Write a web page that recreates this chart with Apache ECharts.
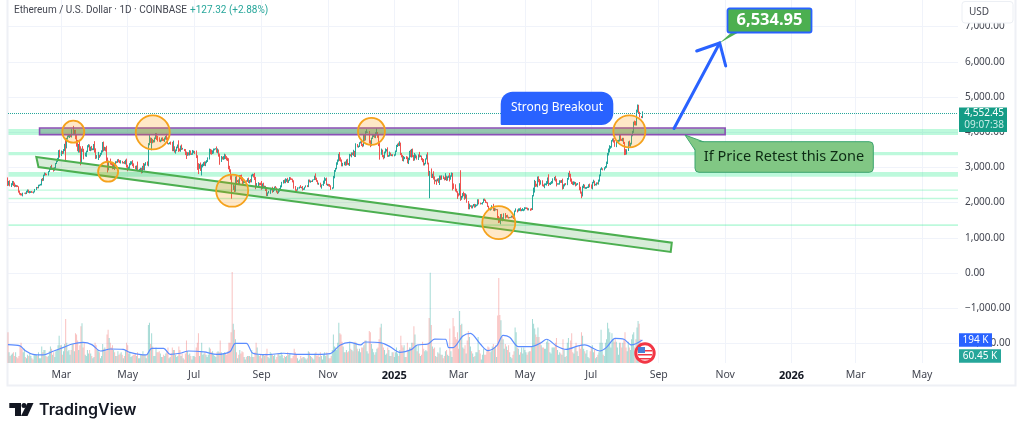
<!DOCTYPE html>
<html><head><meta charset="utf-8">
<script src="https://cdn.jsdelivr.net/npm/echarts@6/dist/echarts.min.js"></script>
<style>html,body{margin:0;padding:0;background:#fff}#c{width:1024px;height:434px}</style></head>
<body><div id="c"></div>
<script>
const tickDates=['2024-03-01','2024-05-01','2024-07-01','2024-09-01','2024-11-01','2025-01-01','2025-03-01','2025-05-01','2025-07-01','2025-09-01','2025-11-01','2026-01-01','2026-03-01','2026-05-01'];
const tickLabels=['Mar','May','Jul','Sep','Nov','{b|2025}','Mar','May','Jul','Sep','Nov','{b|2026}','Mar','May'];
const firstOpen=2620;
const closes=[2522,2576,2472,2512,2587,2530,2468,2490,2470,2453,2313,2242,2234,2217,2267,2268,2258,2317,2344,2283,
2304,2310,2296,2290,2300,2373,2425,2420,2487,2500,2508,2660,2640,2780,2825,2803,2785,2880,2945,3015,2970,2970,2920,2990,3110,3175,3245,3385,3340,
3435,3420,3490,3630,3560,3820,3870,3885,3910,3880,4065,3975,4005,3880,3740,3520,3645,3520,3160,3515,3490,3330,3330,3455,3590,3590,3500,3560,3510,3510,3645,
3500,3280,3310,3330,3320,3390,3455,3695,3505,3545,3505,3240,3005,3160,3100,3085,2985,3065,3055,3155,3150,3200,3175,3140,3155,3130,3130,3105,3210,3015,
2970,2990,3100,3115,3135,3065,3005,2975,3035,2910,2910,2930,2950,2880,3035,2945,3090,3120,3070,3660,3790,3735,3780,3725,3750,3825,3895,3840,3765,3745,3760,
3815,3780,3765,3810,3865,3810,3680,3680,3705,3665,3500,3560,3470,3480,3565,3620,3510,3485,3560,3515,3515,3490,3420,3360,3400,3370,3450,3375,3380,3435,
3440,3420,3295,3060,2980,3070,2930,3020,3065,3100,3095,3130,3175,3245,3485,3445,3390,3425,3505,3520,3535,3440,3480,3335,3175,3275,3245,3270,3320,3280,3230,
3200,2985,2905,2690,2420,2460,2340,2680,2600,2610,2555,2725,2705,2660,2570,2595,2615,2610,2640,2575,2630,2625,2765,2770,2745,2680,2460,2530,2530,2525,2515,
2425,2535,2450,2450,2370,2225,2275,2300,2360,2390,2340,2360,2440,2420,2315,2295,2340,2370,2465,2560,2615,2580,2650,2655,2580,2635,2695,2675,2660,2605,
2445,2365,2350,2415,2415,2445,2425,2440,2370,2385,2440,2475,2460,2625,2605,2610,2605,2645,2650,2750,2670,2620,2525,2535,2445,2505,2505,2565,2640,2660,2515,
2515,2495,2460,2400,2420,2720,2895,2960,3125,3185,3375,3245,3185,3060,3090,3130,3075,3205,3105,3070,3355,3325,3395,3360,3410,3325,3655,3580,3590,3700,
3710,3640,3615,3835,3785,4000,4005,4005,3710,3625,3835,3880,3905,3870,3960,3985,3900,3625,3420,3475,3330,3280,3420,3490,3500,3330,3330,3400,3350,3355,3335,
3355,3450,3610,3655,3635,3685,3380,3325,3220,3265,3280,3265,3135,3225,3450,3310,3475,3310,3215,3290,3330,3240,3340,3315,3315,3235,3180,3075,3110,3245,3300,
3115,2870,2880,2730,2790,2685,2620,2630,2625,2655,2600,2740,2670,2725,2690,2660,2745,2675,2715,2740,2660,2765,2815,2515,2490,2375,2305,2235,
2215,2520,2150,2170,2240,2200,2140,2200,2015,1860,1910,1910,1865,1910,1935,1885,1925,1935,2055,1980,1965,1975,2005,2080,2065,2010,2000,1895,1825,1805,1820,
1905,1795,1815,1805,1805,1580,1550,1470,1665,1520,1565,1645,1595,1625,1590,1575,1580,1585,1610,1590,1575,1760,1795,1770,1785,1820,1795,1795,1795,1795,
1840,1845,1835,1810,1820,1815,1810,2205,2345,2585,2515,2495,2680,2610,2550,2605,2495,2480,2525,2525,2550,2665,2530,2530,2550,2565,2660,2680,2630,2530,2530,
2530,2605,2590,2610,2420,2480,2525,2515,2680,2815,2770,2645,2580,2525,2545,2545,2510,2525,2525,2410,2295,2225,2450,2460,2420,2420,2425,2435,2500,2485,
2405,2570,2590,2510,2515,2545,2540,2615,2770,2950,2955,2945,2975,3010,3135,3370,3475,3550,3590,3755,3760,3745,3625,3715,3745,3755,3875,3795,3790,3810,3695,
3480,3395,3495,3720,3615,3680,3905,4010,4260,4255,4220,4590,4750,4550,4440,4430,4552.45];
const upWicks=[95,40,60,40,30,25,40,20,10,20,10,30,30,25,15,10,20,20,30,25,
25,15,20,15,20,15,20,20,20,15,25,15,40,15,30,20,15,15,25,20,60,20,25,15,15,15,25,105,120,
45,30,30,40,200,20,40,50,20,35,20,115,60,60,50,40,20,120,80,20,90,40,90,20,40,70,60,30,50,30,20,
100,40,40,110,30,20,30,25,40,40,30,110,40,30,90,30,50,30,60,20,20,30,40,30,50,30,20,50,10,40,
60,30,20,60,40,70,50,40,20,130,20,30,40,40,10,90,20,30,50,30,150,60,60,30,30,25,80,80,60,90,30,
30,40,30,40,30,90,40,10,10,30,60,200,40,30,25,30,150,30,60,90,40,10,30,30,30,30,40,30,20,60,
40,30,60,50,60,30,70,60,40,50,70,40,30,40,50,40,60,60,30,15,10,60,60,30,60,50,30,50,70,50,40,
50,60,60,40,100,60,30,60,90,30,50,60,60,90,60,30,10,20,50,70,10,40,30,50,45,100,50,25,50,30,40,
100,10,30,30,25,70,15,30,60,20,60,20,15,30,10,10,20,40,25,30,25,40,40,20,50,15,30,25,15,20,
30,25,10,20,10,10,50,10,30,20,10,15,20,30,30,20,10,10,10,15,80,40,15,30,30,10,10,60,80,30,50,
20,15,30,30,15,40,30,25,20,40,10,60,40,40,40,30,40,20,40,20,30,20,30,30,90,60,30,10,30,15,
30,80,30,90,100,30,80,10,30,60,10,40,20,30,40,123,20,30,80,60,30,20,30,50,20,70,20,50,20,20,20,
20,30,30,20,50,60,20,30,30,60,20,40,40,50,20,50,50,60,40,120,40,10,30,100,30,20,30,60,20,10,70,
130,20,20,90,30,100,60,20,30,30,40,30,30,50,40,30,90,20,30,30,100,10,40,30,30,30,20,20,
30,30,400,20,30,70,70,60,30,30,60,15,15,10,25,30,30,10,40,40,20,10,10,30,35,20,15,10,15,10,20,
20,60,30,20,10,10,40,30,10,15,20,50,60,20,30,10,10,10,20,20,10,15,40,10,50,20,40,20,50,20,
30,20,20,20,20,10,30,10,80,60,30,20,60,70,60,30,30,20,20,20,60,50,140,30,30,50,30,50,80,50,20,
20,30,30,30,70,40,20,30,20,30,90,50,40,20,60,50,40,20,30,60,40,20,30,70,50,20,20,20,20,40,
30,20,60,30,20,30,30,40,30,20,50,20,30,30,30,40,60,80,20,20,60,70,30,50,30,30,60,60,20,30,30,
30,40,20,20,40,20,20,30,40,70,60,50,38,30,30,20,40];
const downWicks=[50,40,10,30,20,60,30,20,30,10,30,15,30,15,40,10,20,15,30,10,
20,30,20,10,30,10,15,15,15,20,15,20,30,20,20,30,10,15,10,20,40,20,40,15,20,15,20,40,60,
15,40,30,30,400,20,30,15,50,20,30,50,30,80,150,60,100,100,100,20,50,100,20,30,20,20,30,40,30,20,20,
80,40,30,100,50,10,30,30,50,30,50,60,150,90,20,20,40,30,130,20,30,20,30,20,30,20,20,10,20,20,
80,20,30,40,30,30,20,30,50,20,20,30,30,50,40,20,30,40,20,40,30,40,250,40,20,40,20,60,30,20,30,
20,30,20,40,20,30,20,30,20,20,40,40,50,80,20,20,70,30,40,20,10,30,70,120,30,30,30,20,20,20,
30,40,30,130,170,20,30,160,20,30,50,60,10,20,20,70,30,10,30,20,10,20,40,30,100,20,20,30,40,40,30,
20,40,40,40,310,60,40,30,50,20,30,30,40,40,70,30,40,20,20,20,30,50,50,20,30,40,80,20,60,40,20,
60,30,20,30,40,40,40,15,50,10,60,40,20,10,30,50,30,30,20,30,20,30,30,60,20,20,15,30,15,30,
50,30,50,10,10,20,10,20,30,10,20,10,20,20,30,40,20,20,10,10,30,30,10,20,10,50,10,30,30,20,20,
40,30,10,40,20,20,30,20,15,50,20,60,20,30,30,30,30,20,30,10,30,10,40,10,30,30,30,10,20,10,
20,30,40,20,40,20,30,20,30,50,20,30,20,30,40,50,60,20,200,60,40,50,20,20,40,30,30,20,20,30,20,
20,20,10,30,30,30,30,40,40,50,30,30,20,40,20,20,30,20,30,20,30,20,30,30,20,30,30,20,20,20,20,
30,110,745,30,30,30,100,20,120,20,40,100,30,20,20,30,20,60,50,10,60,10,30,170,100,60,20,130,
40,10,100,70,30,20,60,30,20,50,50,30,30,30,20,30,20,30,20,30,20,10,30,10,20,20,20,20,20,20,30,
20,30,40,30,20,60,130,40,85,30,50,30,50,20,20,30,20,15,15,20,40,20,20,50,20,20,40,40,30,40,
20,20,20,30,30,50,30,20,30,60,70,40,60,30,70,40,30,30,70,30,40,20,60,20,30,20,20,30,30,70,20,
20,20,30,30,50,30,20,20,20,30,40,50,50,20,30,30,50,30,20,60,40,100,50,40,20,30,30,10,20,50,
10,30,20,40,20,30,20,30,20,20,20,30,30,10,20,40,30,50,20,30,20,40,40,50,20,20,20,40,40,50,30,
130,40,30,30,20,30,30,20,30,60,30,30,30,30,20,30,30];
const volumes=[260,90,60,70,80,90,60,90,50,40,60,140,170,120,90,120,50,40,70,60,
80,60,40,30,70,70,70,60,90,40,40,140,90,110,110,60,50,60,100,140,120,70,90,50,100,110,150,230,150,
150,70,100,160,370,170,100,110,70,110,160,160,100,250,240,190,110,150,310,335,130,170,70,60,110,80,110,80,60,40,50,
170,150,110,100,90,40,60,160,120,130,100,240,280,210,170,130,150,110,90,60,60,100,70,80,90,70,40,60,110,170,
150,80,90,50,60,70,70,80,60,90,40,40,70,70,100,70,70,40,80,320,340,160,250,140,60,60,130,90,90,100,80,
50,50,70,60,80,100,130,40,50,80,130,110,110,70,50,60,140,110,60,80,40,30,80,190,100,70,80,60,30,60,
60,50,130,170,250,60,90,170,70,80,90,70,50,70,130,120,90,100,70,60,50,90,100,90,190,90,70,80,90,80,70,
100,170,170,260,767,330,280,200,90,40,70,110,80,100,90,50,30,50,60,60,60,50,110,50,50,90,170,130,70,60,70,
40,70,70,60,80,120,50,40,90,80,70,60,70,30,50,80,80,60,90,70,40,60,50,60,90,70,80,40,40,60,
120,90,70,40,20,30,60,40,50,50,40,30,40,100,90,60,50,40,30,80,90,60,70,50,90,60,30,70,90,60,90,
70,40,40,60,110,240,140,130,110,170,340,250,240,180,140,90,90,110,90,100,180,120,110,100,170,180,170,120,100,120,
90,130,130,150,190,190,100,80,270,260,160,120,90,70,90,120,130,200,300,330,160,130,110,70,80,130,110,60,60,90,90,
50,90,130,80,60,110,230,150,130,150,50,50,170,110,130,130,170,170,310,240,150,100,150,80,60,70,180,120,100,110,100,
170,380,760,320,140,120,130,60,50,90,80,130,70,70,40,60,100,110,70,60,290,100,50,380,310,220,200,260,
120,438,320,330,130,120,150,80,190,270,220,140,100,80,50,60,90,90,220,110,80,30,70,120,70,70,100,140,130,90,100,
140,160,130,150,50,400,716,405,360,220,200,120,160,140,110,150,90,50,40,70,100,300,260,130,120,70,90,130,80,130,
110,90,70,90,100,100,140,370,330,290,240,220,300,220,180,150,130,130,120,120,180,200,170,90,80,130,130,130,170,210,110,
70,90,80,70,200,110,50,60,170,210,130,190,250,90,80,130,170,100,60,150,120,260,230,120,100,80,110,50,40,100,
130,150,90,110,40,50,70,90,170,280,170,70,60,170,200,340,290,260,130,250,200,180,210,180,130,70,170,170,130,170,200,
260,130,100,180,130,110,200,240,260,130,200,300,355,330,200,110,60.45];
const maDays=[0,11,16,23,32,42,51,59,69,77,85,94,106,112,127,132,143,149,158,166,180,192,204,209,219,225,238,253,268,284,296,305,314,324,328,343,351,360,371,376,386,392,402,405,409,418,425,434,441,449,455,461,469,481,489,495,504,513,524,530,544,550,558,566,573,583];
const maValues=[155,144,104,73,68,101,132,160,174,155,101,118,115,90,68,124,124,73,82,101,93,73,96,166,166,82,70,82,73,73,79,150,174,152,177,169,138,90,115,152,160,202,200,130,130,228,250,160,104,144,233,217,138,138,166,200,144,115,144,152,101,132,208,200,152,194];
const zoneBands=[[3920,4091],[3344,3437],[2736,2869],[2338,2372],[2094,2139],[1335,1384]];
const lastPrice=4552.45;
const targetPrice=6534.95;

const dayCount=874, dayMs=86400000, startMs=Date.UTC(2024,0,12);
const days=[];
for(let i=0;i<dayCount;i++)days.push(new Date(startMs+i*dayMs).toISOString().slice(0,10));
const candle=closes.map((c,i)=>{
  const o=i?closes[i-1]:firstOpen;
  return [o,c,Math.min(o,c)-downWicks[i],Math.max(o,c)+upWicks[i]];
});
const UP='#26a69a',DOWN='#ef5350',GRID='#f0f3fa',FONT='"Noto Sans",sans-serif',TFONT='Roboto,sans-serif';
const volData=volumes.map((v,i)=>({value:v,itemStyle:{color:candle[i][1]>=candle[i][0]?'rgba(38,166,154,.42)':'rgba(239,83,80,.36)'}}));
const isTick=(i,v)=>tickDates.includes(v);

const option={
  animation:false,
  backgroundColor:'#fff',
  title:[
   {left:14,top:5,padding:0,text:'Ethereum / U.S. Dollar · 1D · COINBASE',textStyle:{fontSize:10,fontWeight:'normal',color:'#434651',fontFamily:TFONT}},
   {left:190,top:5,padding:0,text:'+127.32 (+2.88%)',textStyle:{fontSize:10,fontWeight:'normal',color:'#26a69a',fontFamily:TFONT}}
  ],
  grid:[{left:8,top:0,width:950,height:363},{left:8,top:0,width:950,height:378.6}],
  xAxis:[
   {type:'category',gridIndex:0,data:days,boundaryGap:false,axisLine:{show:false},axisTick:{show:false},
    splitLine:{show:true,interval:isTick,lineStyle:{color:GRID,width:1}},
    axisLabel:{interval:isTick,margin:7,fontSize:10.5,fontFamily:FONT,color:'#434651',hideOverlap:false,
      formatter:v=>tickLabels[tickDates.indexOf(v)]||'',rich:{b:{fontSize:11,fontWeight:'bold',color:'#131722',fontFamily:FONT}}}},
   {type:'category',gridIndex:1,data:days,boundaryGap:false,show:false}
  ],
  yAxis:[
   {type:'value',gridIndex:0,min:0,max:3060,show:false,splitLine:{show:false}},
   {type:'value',gridIndex:1,min:-3000,max:7756,interval:1000,position:'right',axisLine:{show:false},axisTick:{show:false},
    splitLine:{show:true,showMinLine:false,showMaxLine:false,lineStyle:{color:GRID,width:1}},
    axisLabel:{showMinLabel:false,showMaxLabel:false,margin:7,padding:[2,0,0,0],fontSize:10,fontFamily:FONT,color:'#434651',
      formatter:v=>(v<0?'\u2212':'')+Math.abs(v).toLocaleString('en-US',{minimumFractionDigits:2})}}
  ],
  series:[
   {type:'bar',name:'Volume',xAxisIndex:0,yAxisIndex:0,data:volData,barWidth:1,silent:true,z:2},
   {type:'line',name:'Volume MA',xAxisIndex:0,yAxisIndex:0,data:maDays.map((d,i)=>[days[d],maValues[i]]),showSymbol:false,smooth:0.3,
    lineStyle:{color:'#5b8cff',width:1.2},silent:true,z:3},
   {type:'candlestick',name:'ETHUSD',xAxisIndex:1,yAxisIndex:1,data:candle,barWidth:1,silent:true,z:4,
    itemStyle:{color:UP,color0:DOWN,borderColor:UP,borderColor0:DOWN,borderWidth:1},
    markLine:{silent:true,symbol:'none',label:{show:false},lineStyle:{color:'#26a69a',type:'dotted',width:1},data:[{yAxis:lastPrice}]},
    markArea:{silent:true,itemStyle:{color:'rgba(0,230,118,.26)'},data:zoneBands.map(b=>[{yAxis:b[0]},{yAxis:b[1]}])}}
  ]
};
const chart=echarts.init(document.getElementById('c'),null,{renderer:'canvas'});
chart.setOption(option);

const at=(i,v)=>chart.convertToPixel({xAxisIndex:1,yAxisIndex:1},[i,v]);
const Z=50;
const circles=[[59.7,4014,11],[132.6,3997,17],[92.2,2878,10],[205.6,2338,16],[334.3,4026,13.5],[451.3,1429,16.5],[570.5,4026,16]];
const channel=[[25.7,3295],[610.3,861],[608.5,597],[27.6,3011]];
const zoneBox=[[29.4,4119],[659,3930]];
const arrowFrom=[612,4105], arrowTo=[654.4,targetPrice];
const a1=at(zoneBox[0][0],zoneBox[0][1]),a2=at(zoneBox[1][0],zoneBox[1][1]);
const tip=at(arrowTo[0],arrowTo[1]),tail=at(arrowFrom[0],arrowFrom[1]);
const g=[];
g.push({type:'polygon',z:Z,shape:{points:channel.map(p=>at(p[0],p[1]))},style:{fill:'rgba(76,175,80,.22)',stroke:'#4caf50',lineWidth:2}});
g.push({type:'rect',z:Z,shape:{x:a1[0],y:a1[1],width:a2[0]-a1[0],height:a2[1]-a1[1]},style:{fill:'rgba(90,130,110,.42)',stroke:'#8a4fb5',lineWidth:1.6}});
circles.forEach(c=>{const p=at(c[0],c[1]);g.push({type:'circle',z:Z+1,shape:{cx:p[0],cy:p[1],r:c[2]},style:{fill:'rgba(255,152,0,.22)',stroke:'#f5a21c',lineWidth:1.8}})});
g.push({type:'line',z:Z+2,shape:{x1:tail[0],y1:tail[1],x2:tip[0],y2:tip[1]},style:{stroke:'#2962ff',lineWidth:3,lineCap:'round'}});
g.push({type:'polyline',z:Z+2,shape:{points:[[tip[0]-23,tip[1]+8],tip,[tip[0]+6,tip[1]+23]]},style:{fill:'none',stroke:'#2962ff',lineWidth:3,lineCap:'round'}});
g.push({type:'polygon',z:Z+3,shape:{points:[[733,31],[741,31],[tip[0],tip[1]]]},style:{fill:'#4caf50'}});
g.push({type:'rect',z:Z+3,shape:{x:727.5,y:8.5,width:84,height:24,r:2},style:{fill:'#4caf50',stroke:'#2962ff',lineWidth:1.8}});
g.push({type:'text',z:Z+4,x:769.5,y:20.5,style:{text:targetPrice.toLocaleString('en-US',{minimumFractionDigits:2}),fill:'#fff',font:'bold 16.5px '+FONT,align:'center',verticalAlign:'middle'}});
g.push({type:'rect',z:Z+3,shape:{x:500.7,y:91.7,width:112.6,height:33.3,r:[12,12,12,1]},style:{fill:'#2962ff'}});
g.push({type:'text',z:Z+4,x:557,y:108,style:{text:'Strong Breakout',fill:'#fff',font:'12px '+FONT,align:'center',verticalAlign:'middle'}});
g.push({type:'polygon',z:Z+3,shape:{points:[[685,135],[695,150],[704,142]]},style:{fill:'#81c784',stroke:'#3ba56f',lineWidth:1}});
g.push({type:'rect',z:Z+3,shape:{x:695,y:141.7,width:178.3,height:30.6,r:4},style:{fill:'#81c784',stroke:'#3ba56f',lineWidth:1}});
g.push({type:'polygon',z:Z+3,shape:{points:[[686.5,136.5],[696,150],[703,143]]},style:{fill:'#81c784'}});
g.push({type:'text',z:Z+4,x:784,y:157,style:{text:'If Price Retest this Zone',fill:'#0d2b14',font:'14.5px '+FONT,align:'center',verticalAlign:'middle'}});
g.push({type:'rect',z:Z+5,shape:{x:959,y:107.5,width:48,height:24.5},style:{fill:'#149c86'}});
g.push({type:'text',z:Z+6,x:1004,y:113.5,style:{text:lastPrice.toLocaleString('en-US',{minimumFractionDigits:2}),fill:'#fff',font:'10px '+FONT,align:'right',verticalAlign:'middle'}});
g.push({type:'text',z:Z+6,x:1004,y:125.5,style:{text:'09:07:38',fill:'#c8ece6',font:'10px '+FONT,align:'right',verticalAlign:'middle'}});
g.push({type:'rect',z:Z+5,shape:{x:959,y:333.3,width:33,height:13.4},style:{fill:'#2962ff'}});
g.push({type:'text',z:Z+6,x:975.5,y:340,style:{text:'194 K',fill:'#fff',font:'10px '+FONT,align:'center',verticalAlign:'middle'}});
g.push({type:'rect',z:Z+5,shape:{x:959,y:349.3,width:42,height:13.4},style:{fill:'#26a69a'}});
g.push({type:'text',z:Z+6,x:980,y:356,style:{text:'60.45 K',fill:'#fff',font:'10px '+FONT,align:'center',verticalAlign:'middle'}});
g.push({type:'rect',z:Z+5,shape:{x:962,y:1.5,width:51,height:21.5,r:3},style:{fill:'#fff',stroke:'#eceff4',lineWidth:1}});
g.push({type:'text',z:Z+6,x:969,y:12.5,style:{text:'USD',fill:'#434651',font:'10px '+FONT,verticalAlign:'middle'}});
g.push({type:'polyline',z:1,shape:{points:[[7.5,0],[7.5,385.5],[1015.5,385.5],[1015.5,0]]},style:{fill:'none',stroke:'#eef0f5',lineWidth:2}});
g.push({type:'circle',z:Z+5,shape:{cx:645,cy:353,r:9.2},style:{fill:'#fff',stroke:'#f23645',lineWidth:3}});
[350,354,358].forEach(y=>g.push({type:'rect',z:Z+5,shape:{x:638,y:y,width:14,height:1.5},style:{fill:'#f23645'}}));
g.push({type:'rect',z:Z+5,shape:{x:638,y:347,width:7,height:6},style:{fill:'#4a7fd6'}});
g.push({type:'polygon',z:5,shape:{points:[[9.3,403],[21,403],[21,416],[15,416],[15,408],[9.3,408]]},style:{fill:'#131722'}});
g.push({type:'circle',z:5,shape:{cx:24,cy:405.5,r:2.5},style:{fill:'#131722'}});
g.push({type:'polygon',z:5,shape:{points:[[27.5,403],[33.5,403],[27.5,416],[21,416]]},style:{fill:'#131722'}});
g.push({type:'text',z:5,x:39,y:410,style:{text:'TradingView',fill:'#131722',font:'600 16px Inter,Roboto,sans-serif',verticalAlign:'middle'}});
chart.setOption({graphic:g});
</script></body></html>
